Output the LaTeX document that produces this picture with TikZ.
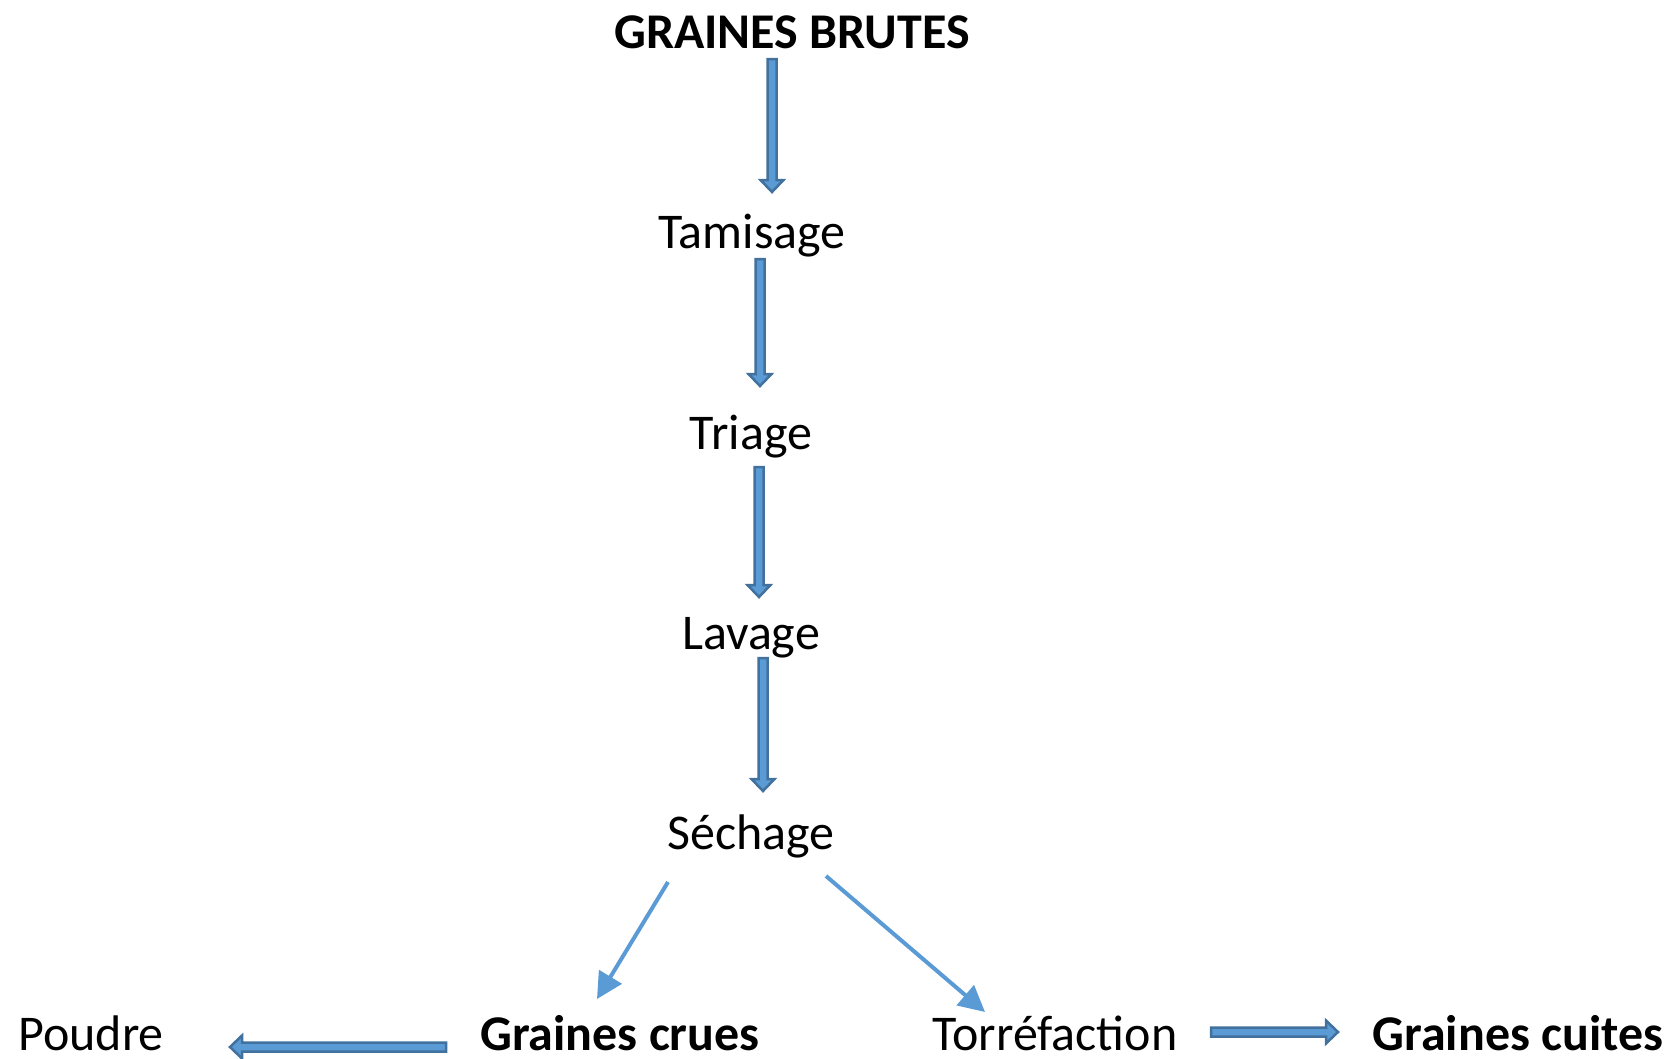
\documentclass[tikz,border=0pt]{standalone}
\usepackage{fontspec}
\setmainfont{Carlito}
\usetikzlibrary{calc,arrows.meta}
\definecolor{blkline}{HTML}{41719C}
\definecolor{blkfill}{HTML}{5B9BD5}
\tikzset{
  lbl/.style={anchor=base, inner sep=0pt, font=\fontsize{50}{60}\selectfont},
  lblb/.style={lbl, font=\fontsize{50}{60}\selectfont\bfseries},
  blockarrow/.style={draw=blkline, fill=blkfill, line width=2.5pt, line join=miter},
  thinarrow/.style={draw=blkfill, line width=4pt, -{Triangle[length=26pt,width=26pt]}, shorten >=0pt}
}
\newcommand{\blockarr}[2]{%
  \path[blockarrow]
    ($(#1)!4.5pt!90:(#2)$) --
    ($($(#2)!12pt!(#1)$)!4.5pt!-90:(#1)$) --
    ($($(#2)!12pt!(#1)$)!11.5pt!-90:(#1)$) --
    (#2) --
    ($($(#2)!12pt!(#1)$)!11.5pt!90:(#1)$) --
    ($($(#2)!12pt!(#1)$)!4.5pt!90:(#1)$) --
    ($(#1)!4.5pt!-90:(#2)$) -- cycle;}
\begin{document}
\begin{tikzpicture}[x=1pt,y=-1pt]
\useasboundingbox (0,0) rectangle (1671,1058);
\node[lblb] (brutes) at (792,48) {GRAINES BRUTES};
\node[lbl] (tamis) at (752,248) {Tamisage};
\node[lbl] (triage) at (751,449) {Triage};
\node[lbl] (lavage) at (751,649) {Lavage};
\node[lbl] (sechage) at (751,849) {Séchage};
\node[lbl] (poudre) at (91,1050) {Poudre};
\node[lblb] (crues) at (620,1050) {Graines crues};
\node[lbl] (torr) at (1055,1050) {Torréfaction};
\node[lblb] (cuites) at (1518,1050) {Graines cuites};
% arrow end points
\coordinate (a1s) at (772,59);  \coordinate (a1e) at (772,192);
\coordinate (a2s) at (760,259); \coordinate (a2e) at (760,386);
\coordinate (a3s) at (759,467); \coordinate (a3e) at (759,597);
\coordinate (a4s) at (763,658); \coordinate (a4e) at (763,791);
\coordinate (a7s) at (446,1047); \coordinate (a7e) at (230,1047);
\coordinate (a8s) at (1211,1032); \coordinate (a8e) at (1338,1032);
\coordinate (t1s) at (668,882); \coordinate (t1e) at (597,999);
\coordinate (t2s) at (826,876); \coordinate (t2e) at (985,1012);
\blockarr{a1s}{a1e}
\blockarr{a2s}{a2e}
\blockarr{a3s}{a3e}
\blockarr{a4s}{a4e}
\blockarr{a7s}{a7e}
\blockarr{a8s}{a8e}
\draw[thinarrow] (t1s) -- (t1e);
\draw[thinarrow] (t2s) -- (t2e);
\end{tikzpicture}
\end{document}
